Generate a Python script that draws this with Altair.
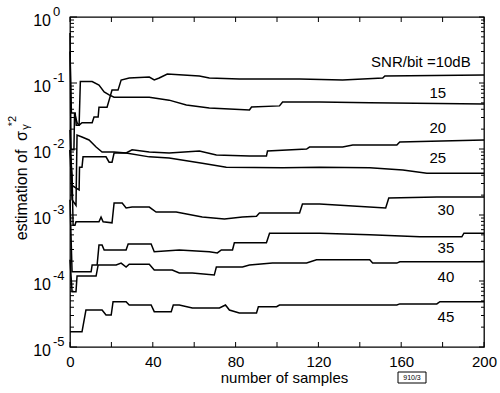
import altair as alt
import pandas as pd

# ---- data (x = number of samples, y = estimate) ----
s10 = [(0,0.57),(0.5,0.0097),(1.9,0.0097),(2.2,0.035),(3.4,0.025),(4.4,0.023),(5.8,0.025),(10.7,0.025),
       (11.6,0.0305),(13.6,0.0305),(14,0.043),(17.9,0.043),(18.9,0.055),(20.3,0.078),(23.2,0.078),(24.7,0.111),
       (28.6,0.119),(38.3,0.123),(40.7,0.111),(43.1,0.119),(47,0.137),(62.5,0.128),(67.3,0.119),(81.8,0.115),
       (110.9,0.115),(131.7,0.111),(141.4,0.115),(151.1,0.119),(152.1,0.128),(200,0.132)]
s15 = [(0,0.3),(0.7,0.035),(2.5,0.035),(3,0.023),(4.4,0.023),(5.0,0.105),(10.7,0.105),(14,0.093),(16.5,0.073),
       (18.9,0.066),(21.3,0.061),(38.3,0.061),(47.9,0.055),(56.2,0.0464),(67.3,0.0418),(86.7,0.039),(87.7,0.0433),
       (101.2,0.045),(102.7,0.0516),(120.6,0.0516),(144.8,0.05),(200,0.048)]
s20 = [(0,0.0195),(1,0.0028),(4.4,0.0024),(4.6,0.0053),(5.8,0.0053),(6.3,0.0076),(17.4,0.0076),(18.9,0.0063),
       (20.3,0.0063),(21.3,0.0087),(27.1,0.0087),(30,0.0097),(38.3,0.009),(47.9,0.0087),(62.5,0.0093),(70.7,0.0081),
       (86.7,0.0078),(94.9,0.0078),(95.4,0.0093),(114.3,0.01),(115.7,0.0107),(131.7,0.0107),(136.6,0.0115),
       (157.9,0.0115),(159.3,0.0128),(200,0.0137)]
s25 = [(0,0.0097),(1,0.0017),(2.9,0.0014),(3.4,0.0163),(5.8,0.0152),(9.2,0.0137),(12.6,0.0107),(15.5,0.009),
       (21.3,0.009),(27.1,0.0087),(38.3,0.0076),(47.9,0.0073),(63.9,0.0061),(75.5,0.0053),(102.7,0.0052),
       (120.6,0.0053),(144.8,0.0052),(160.8,0.0048),(172.4,0.0043),(200,0.0043)]
s30 = [(0,0.0097),(1,0.004),(1.5,0.0007),(2.4,0.0007),(2.9,0.00079),(14,0.00079),(15,0.00093),(16,0.00079),
       (20.3,0.00076),(21.3,0.00152),(25.2,0.00152),(27.1,0.00128),(30,0.00132),(38.3,0.00132),(41.6,0.00111),
       (51.3,0.00111),(63.9,0.00093),(74.6,0.00087),(83.3,0.00093),(90.1,0.00096),(91.5,0.00107),(110.9,0.00107),
       (112.3,0.00147),(120.6,0.00147),(136.6,0.00137),(152.5,0.00128),(154,0.00181),(177.2,0.00187),(200,0.00187)]
s35 = [(0,0.0017),(1,0.000138),(10.2,0.000138),(10.7,0.000175),(13.1,0.000175),(14,0.00035),(15.5,0.00035),
       (16.5,0.000295),(27.1,0.000295),(28.1,0.000364),(39.2,0.000364),(40.7,0.000278),(52.8,0.000295),
       (67.3,0.000278),(71.2,0.000266),(73.1,0.000295),(78.5,0.000295),(79.4,0.00038),(94.9,0.00038),
       (96.4,0.00053),(120.6,0.00053),(144.8,0.0005),(169,0.000468),(189.3,0.000468),(190.3,0.00053),(200,0.00053)]
s40 = [(0,0.00021),(1,0.000069),(2.9,0.000069),(3.4,0.000119),(12.6,0.000119),(13.6,0.000175),(22.3,0.000175),
       (24.7,0.000187),(27.1,0.000163),(28.6,0.00018),(38.3,0.00018),(40.7,0.000147),(49.4,0.000147),
       (52.8,0.000132),(59.1,0.000132),(69.7,0.000123),(70.7,0.000163),(83.3,0.000163),(86.7,0.000175),
       (97.8,0.000187),(114.3,0.000187),(119.1,0.000209),(144.8,0.000209),(146.2,0.000187),(157.9,0.000187),
       (159.3,0.000196),(200,0.000196)]
s45 = [(0,0.000017),(5.8,0.000017),(7.7,0.0000363),(15.5,0.0000363),(17.4,0.0000305),(19.9,0.0000305),
       (20.8,0.0000485),(27.1,0.0000485),(28.6,0.0000433),(39.2,0.0000433),(40.7,0.0000343),(48.9,0.0000343),
       (49.9,0.0000433),(52.8,0.0000433),(59.1,0.000039),(72.2,0.000039),(75.1,0.0000433),(77,0.0000363),
       (81.8,0.0000327),(90.1,0.0000327),(91,0.0000408),(99.8,0.0000408),(101.2,0.0000433),(157.9,0.0000433),
       (159.3,0.000045),(177.2,0.000045),(178.7,0.0000485),(200,0.0000485)]

series_names = ["10", "15", "20", "25", "30", "35", "40", "45"]
series_data = [s10, s15, s20, s25, s30, s35, s40, s45]

label_texts = ["SNR/bit =10dB", "15", "20", "25", "30", "35", "40", "45"]
label_x = [169.5, 177.7, 177.7, 177.7, 181.6, 181.6, 181.6, 181.6]
label_y = [0.208, 0.0705, 0.0208, 0.0073, 0.00119, 0.000316, 0.000115, 0.0000285]

x_tick_labels = [0, 40, 80, 120, 160, 200]
x_ticks = [0, 20, 40, 60, 80, 100, 120, 140, 160, 180, 200]
y_exponents = [0, -1, -2, -3, -4, -5]

FONT = "Liberation Sans"

rows = []
for name, pts in zip(series_names, series_data):
    for i, (xv, yv) in enumerate(pts):
        rows.append({"series": name, "order": i, "x": xv, "y": yv})
lines_df = pd.DataFrame(rows)

ann_df = pd.DataFrame({"x": label_x, "y": label_y, "text": label_texts})
xt_df = pd.DataFrame({"x": x_ticks})
ymaj_df = pd.DataFrame({"y": [10.0 ** e for e in y_exponents], "exp": [str(e) for e in y_exponents]})
ymin_df = pd.DataFrame({"y": [m * 10.0 ** k for k in range(-5, 0) for m in range(2, 10)]})

W, H = 414, 330

xscale = alt.Scale(domain=[0, 200], nice=False)
yscale = alt.Scale(type="log", domain=[1e-5, 1], nice=False)
xaxis = alt.Axis(values=x_tick_labels, ticks=False, domain=False, grid=False, labelFlush=False,
                 labelFontSize=15, labelFont=FONT, labelColor="black", labelPadding=7,
                 title="number of samples", titleFont=FONT, titleFontSize=15, titleFontWeight="normal",
                 titleColor="black", titlePadding=1, titleX=214)
X = alt.X("x:Q", scale=xscale, axis=xaxis)
Y = alt.Y("y:Q", scale=yscale, axis=None)

lines = alt.Chart(lines_df).mark_line(color="black", strokeWidth=1.5).encode(
    x=X, y=Y, detail="series:N", order="order:Q")

ann = alt.Chart(ann_df).mark_text(font=FONT, fontSize=15, color="black", align="center", baseline="middle").encode(
    x=X, y=Y, text="text:N")

xt_bot = alt.Chart(xt_df).mark_rule(color="black", strokeWidth=1).encode(x=X, y=alt.value(H), y2=alt.value(H - 5))
xt_top = alt.Chart(xt_df).mark_rule(color="black", strokeWidth=1).encode(x=X, y=alt.value(0), y2=alt.value(5))
yt_maj_l = alt.Chart(ymaj_df).mark_rule(color="black", strokeWidth=1).encode(y=Y, x=alt.value(0), x2=alt.value(7))
yt_min_l = alt.Chart(ymin_df).mark_rule(color="black", strokeWidth=1).encode(y=Y, x=alt.value(0), x2=alt.value(4))
yt_maj_r = alt.Chart(ymaj_df).mark_rule(color="black", strokeWidth=1).encode(y=Y, x=alt.value(W), x2=alt.value(W - 5))
yt_min_r = alt.Chart(ymin_df).mark_rule(color="black", strokeWidth=1).encode(y=Y, x=alt.value(W), x2=alt.value(W - 3))

ylab_base = alt.Chart(ymaj_df).mark_text(font=FONT, fontSize=16, color="black", align="right",
                                         baseline="middle", dy=4, text="10").encode(y=Y, x=alt.value(-19))
ylab_exp = alt.Chart(ymaj_df).mark_text(font=FONT, fontSize=13, color="black", align="left",
                                        baseline="middle", dy=-5).encode(y=Y, x=alt.value(-17), text="exp:N")

one = alt.Data(values=[{"a": 1}])
ytitle_main = alt.Chart(one).mark_text(text="estimation of", font=FONT, fontSize=16, color="black", angle=270,
                                       align="center", baseline="middle").encode(x=alt.value(-48), y=alt.value(178))
ytitle_sigma = alt.Chart(one).mark_text(text="σ", font=FONT, fontSize=16, color="black", angle=270,
                                        align="center", baseline="middle").encode(x=alt.value(-48), y=alt.value(119))
ytitle_sub = alt.Chart(one).mark_text(text="γ", font=FONT, fontSize=11, color="black", angle=270,
                                      align="center", baseline="middle").encode(x=alt.value(-44), y=alt.value(110))
ytitle_sup = alt.Chart(one).mark_text(text="*2", font=FONT, fontSize=11, color="black", angle=270,
                                      align="center", baseline="middle").encode(x=alt.value(-57), y=alt.value(104))

box = alt.Chart(one).mark_rect(fill="white", stroke="black", strokeWidth=1).encode(
    x=alt.value(328), x2=alt.value(356), y=alt.value(355), y2=alt.value(366))
box_txt = alt.Chart(one).mark_text(text="910/3", font=FONT, fontSize=7, color="black", align="center",
                                   baseline="middle").encode(x=alt.value(342), y=alt.value(361))

chart = alt.layer(
    lines, ann, xt_bot, xt_top, yt_maj_l, yt_min_l, yt_maj_r, yt_min_r,
    ylab_base, ylab_exp, ytitle_main, ytitle_sigma, ytitle_sub, ytitle_sup, box, box_txt
).properties(
    width=W, height=H,
    padding={"left": 70, "top": 17, "right": 16, "bottom": 46},
    autosize="none",
    background="white",
).configure_view(stroke="black", strokeWidth=1.3)

chart.save("out.html", embed_options={"renderer": "svg", "actions": False})
